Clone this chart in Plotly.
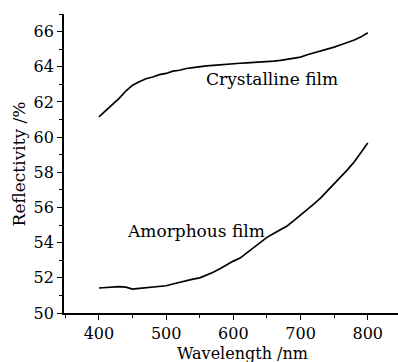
import plotly.graph_objects as go

wavelength = [400, 410, 420, 430, 440, 450, 460, 470, 480, 490, 500, 510, 520, 530, 540,
              550, 560, 570, 580, 590, 600, 610, 620, 630, 640, 650, 660, 670, 680, 690,
              700, 710, 720, 730, 740, 750, 760, 770, 780, 790, 800]
crystalline = [61.15, 61.50, 61.82, 62.20, 62.62, 62.95, 63.15, 63.32, 63.42, 63.55,
               63.62, 63.75, 63.80, 63.90, 63.95, 64.02, 64.05, 64.08, 64.12, 64.15,
               64.18, 64.20, 64.22, 64.24, 64.25, 64.28, 64.32, 64.36, 64.42, 64.46,
               64.55, 64.68, 64.78, 64.90, 65.02, 65.12, 65.25, 65.38, 65.52, 65.70, 65.93]
amorphous = [51.42, 51.44, 51.46, 51.50, 51.47, 51.36, 51.40, 51.44, 51.46, 51.50,
             51.55, 51.65, 51.75, 51.85, 51.93, 52.00, 52.15, 52.32, 52.52, 52.74,
             52.95, 53.12, 53.42, 53.70, 54.00, 54.30, 54.52, 54.75, 54.95, 55.25,
             55.55, 55.90, 56.20, 56.55, 56.95, 57.30, 57.70, 58.15, 58.60, 59.10, 59.66]
x_ticks = [400, 500, 600, 700, 800]
y_ticks = [50, 52, 54, 56, 58, 60, 62, 64, 66]

FONT = "DejaVu Serif"

fig = go.Figure()
fig.add_trace(go.Scatter(x=wavelength, y=crystalline, mode="lines",
                         line=dict(color="black", width=1.7), showlegend=False))
fig.add_trace(go.Scatter(x=wavelength, y=amorphous, mode="lines",
                         line=dict(color="black", width=1.7), showlegend=False))

axis_common = dict(showline=True, linecolor="black", linewidth=1.8, ticks="outside",
                   ticklen=5, tickwidth=1.3, tickcolor="black", showgrid=False,
                   zeroline=False, mirror=False,
                   tickfont=dict(family=FONT, size=16, color="black"))
fig.update_xaxes(range=[348, 845], tickvals=x_ticks,
                 minor=dict(dtick=50, tick0=0, ticks="outside", ticklen=3, tickcolor="black"),
                 **axis_common)
fig.update_yaxes(range=[50, 67], tickvals=y_ticks,
                 minor=dict(dtick=1, tick0=0, ticks="outside", ticklen=3, tickcolor="black"),
                 **axis_common)

fig.add_annotation(x=658, y=63.33, xref="x", yref="y", text="Crystalline film",
                   showarrow=False, font=dict(family=FONT, size=17, color="black"))
fig.add_annotation(x=545, y=54.67, xref="x", yref="y", text="Amorphous film",
                   showarrow=False, font=dict(family=FONT, size=17, color="black"))
fig.add_annotation(x=0.533, y=-0.134, xref="paper", yref="paper", text="Wavelength /nm",
                   showarrow=False, yanchor="middle",
                   font=dict(family=FONT, size=16, color="black"))
fig.add_annotation(x=-0.135, y=0.5, xref="paper", yref="paper", text="Reflectivity /%",
                   showarrow=False, textangle=-90, xanchor="center",
                   font=dict(family=FONT, size=17, color="black"))

fig.update_layout(width=398, height=362, margin=dict(l=64, r=0, t=14, b=49),
                  plot_bgcolor="white", paper_bgcolor="white")
fig.write_html("out.html")
